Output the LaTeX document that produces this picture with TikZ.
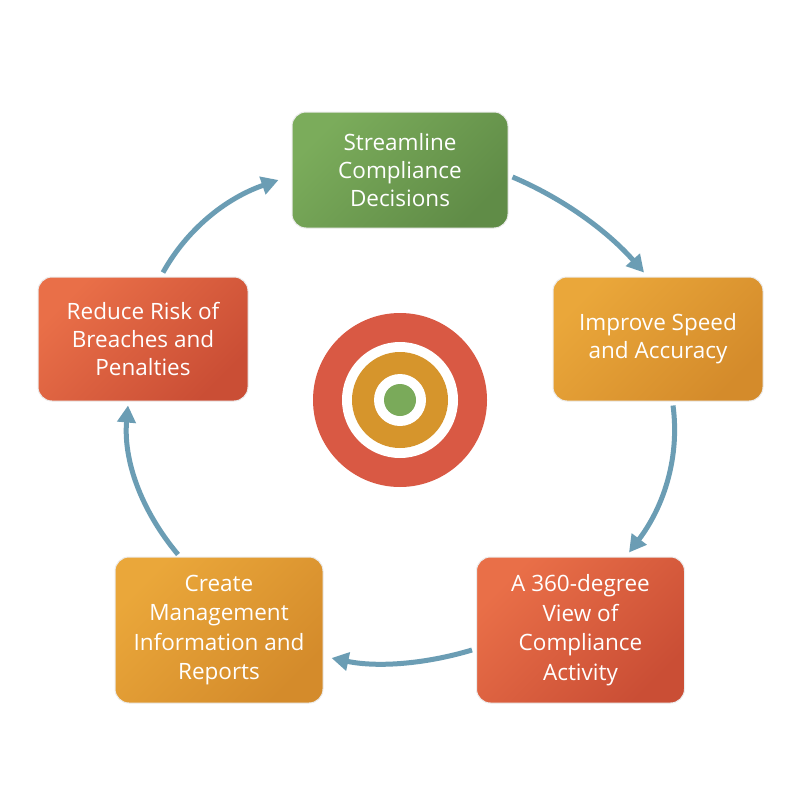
\documentclass[tikz,border=0pt]{standalone}
\usepackage{fontspec}
\setmainfont{Open Sans}
\usetikzlibrary{arrows.meta}
\definecolor{gA}{HTML}{7BAC5B}\definecolor{gB}{HTML}{608C47}
\definecolor{oA}{HTML}{EAA73A}\definecolor{oB}{HTML}{D48B2B}
\definecolor{rA}{HTML}{E96F48}\definecolor{rB}{HTML}{CA4E35}
\definecolor{tRed}{HTML}{D95944}\definecolor{tOr}{HTML}{D6952C}\definecolor{tGr}{HTML}{7AAA5A}
\definecolor{arr}{HTML}{6B9DB4}
\tikzset{
  box/.style={rounded corners=14pt, draw=gray!15, line width=1pt, text=white,
    align=center, font=\fontsize{22.5}{28}\selectfont, inner sep=0pt},
  wide/.style={minimum width=216pt, minimum height=116pt},
  side/.style={minimum width=210pt, minimum height=124pt},
  low/.style={minimum width=208pt, minimum height=146pt, font=\fontsize{22.5}{29.5}\selectfont},
  greenbox/.style={box, top color=gA, bottom color=gB, shading angle=45},
  orangebox/.style={box, top color=oA, bottom color=oB, shading angle=45},
  redbox/.style={box, top color=rA, bottom color=rB, shading angle=45},
  flow/.style={draw=arr, line width=5pt, -{Triangle[length=17pt,width=18pt]}}
}
\begin{document}
\begin{tikzpicture}[x=1pt,y=-1pt]
\useasboundingbox (0,0) rectangle (800,800);
\fill[white] (0,0) rectangle (800,800);

\node[greenbox, wide] (top) at (400,170) {Streamline\\Compliance\\Decisions};
\node[orangebox, side] (right) at (658,339) {Improve Speed\\and Accuracy};
\node[redbox, low] (br) at (580.5,630) {A 360-degree\\View of\\Compliance\\Activity};
\node[orangebox, low] (bl) at (219,630) {Create\\Management\\Information and\\Reports};
\node[redbox, side] (left) at (143,339) {Reduce Risk of\\Breaches and\\Penalties};

\node[circle, fill=tRed, minimum size=174pt, inner sep=0pt] (ring1) at (400,400) {};
\node[circle, fill=white, minimum size=116pt, inner sep=0pt] (gap1) at (ring1.center) {};
\node[circle, fill=tOr, minimum size=96pt, inner sep=0pt] (ring2) at (ring1.center) {};
\node[circle, fill=white, minimum size=52pt, inner sep=0pt] (gap2) at (ring1.center) {};
\node[circle, fill=tGr, minimum size=32pt, inner sep=0pt] (bull) at (ring1.center) {};

\draw[flow] ([xshift=4pt,yshift=-7pt]top.east) .. controls (562.7,198.3) and (606.7,230.3) .. ([xshift=-14pt,yshift=4pt]right.north);
\draw[flow] ([xshift=15pt,yshift=-4pt]right.south) .. controls (679.7,455.7) and (665,505) .. ([xshift=48.5pt,yshift=4pt]br.north);
\draw[flow] ([xshift=-4pt,yshift=-20pt]br.west) .. controls (423,664.7) and (375.7,667.3) .. ([xshift=8pt,yshift=-28pt]bl.east);
\draw[flow] ([xshift=-41pt,yshift=2pt]bl.north) .. controls (140,509) and (123.3,459) .. ([xshift=-15pt,yshift=-4pt]left.south);
\draw[flow] ([xshift=20pt,yshift=4pt]left.north) .. controls (187,229.3) and (225.7,198.3) .. ([xshift=-13pt,yshift=-10pt]top.west);
\end{tikzpicture}
\end{document}
